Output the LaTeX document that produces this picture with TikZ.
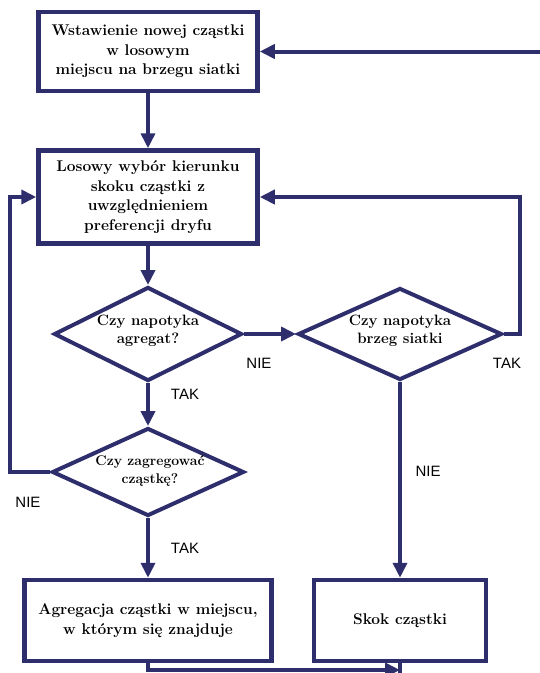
\documentclass[tikz,border=0pt]{standalone}
\usepackage{fontspec}
\newfontfamily\labfont{Liberation Sans}
\usetikzlibrary{shapes.geometric,arrows.meta}
\definecolor{navy}{RGB}{46,46,108}
\tikzset{
  procbox/.style={draw=navy,line width=4.5pt,rectangle,inner sep=0pt,align=center,
    font=\fontsize{15.5}{19.5}\selectfont\bfseries},
  decis/.style={draw=navy,line width=4pt,diamond,inner sep=0pt},
  dtext/.style={font=\fontsize{15}{18.5}\selectfont\bfseries,align=center},
  conn/.style={draw=navy,line width=4pt},
  arr/.style={conn,-{Triangle[length=15pt,width=14pt]}},
  lab/.style={font=\labfont\fontsize{15}{16}\selectfont,inner sep=0pt}
}
\begin{document}
\begin{tikzpicture}[x=1pt,y=-1pt]
\useasboundingbox (0,0) rectangle (539,673);
\node[procbox,minimum width=219pt,minimum height=79pt] (ins) at (148,51.5)
  {Wstawienie nowej cząstki\\w losowym\\ miejscu na brzegu siatki};
\node[procbox,minimum width=219pt,minimum height=93pt] (dir) at (148,197)
  {Losowy wybór kierunku\\skoku cząstki z\\uwzględnieniem\\preferencji dryfu};
\node[decis,minimum width=188pt,minimum height=94pt] (d1) at (148,334) {};
\node[dtext] (t1) at (148,331) {Czy napotyka\\agregat?};
\node[decis,minimum width=204pt,minimum height=92pt] (d2) at (400,334) {};
\node[dtext] (t2) at (400,331) {Czy napotyka\\brzeg siatki};
\node[decis,minimum width=192pt,minimum height=88pt] (d3) at (148,472) {};
\node[dtext,font=\fontsize{14}{18}\selectfont\bfseries] (t3) at (150,471) {Czy zagregować\\cząstkę?};
\node[procbox,minimum width=247pt,minimum height=81pt] (agg) at (148,620.5)
  {Agregacja cząstki w miejscu,\\w którym się znajduje};
\node[procbox,minimum width=172pt,minimum height=81pt] (skok) at (400,620.5)
  {Skok cząstki};
\coordinate (topin) at (545,51.5);
\coordinate (lft) at (10,0);
\coordinate (rgt) at (520,0);
\coordinate (bot) at (0,670);
\coordinate (botend) at (400,680);
\draw[arr] (topin) -- (ins.east);
\draw[arr] (ins.south) -- (dir.north);
\draw[arr] (dir.south) -- (d1.north);
\draw[arr] (d1.east) -- (d2.west);
\draw[arr] (d1.south) -- (d3.north);
\draw[arr] (d3.west) -| (lft |- dir.west) -- (dir.west);
\draw[arr] (d2.east) -| (rgt |- dir.east) -- (dir.east);
\draw[arr] (d3.south) -- (agg.north);
\draw[arr] (d2.south) -- (skok.north);
\draw[arr] (agg.south) |- (bot -| skok.south);
\draw[conn] (skok.south) -- (botend);
\node[lab] (l1) at (259,363) {NIE};
\node[lab] (l2) at (185,394) {TAK};
\node[lab] (l3) at (507,363) {TAK};
\node[lab] (l4) at (428,471) {NIE};
\node[lab] (l5) at (28,502) {NIE};
\node[lab] (l6) at (185,548) {TAK};
\end{tikzpicture}
\end{document}
